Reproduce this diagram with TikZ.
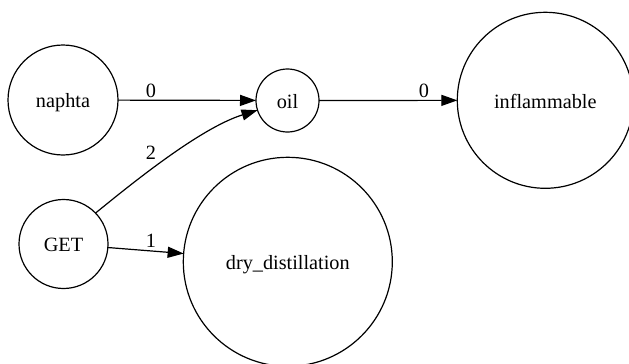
\documentclass[tikz,border=0pt]{standalone}
\usepackage{fontspec}
\setmainfont{Liberation Serif}
\usetikzlibrary{arrows.meta}
\begin{document}
\begin{tikzpicture}[x=0.75pt,y=-0.75pt,
  state/.style={draw, circle, line width=0.9pt, inner sep=0pt, outer sep=0pt, text height=15pt, text depth=3.3pt, font=\fontsize{15.2}{18}\selectfont},
  arr/.style={line width=0.9pt, -{Triangle[length=12pt,width=8.3pt]}},
  lbl/.style={inner sep=0pt, font=\fontsize{15.2}{18}\selectfont}]
\useasboundingbox (0,0) rectangle (629,364);
\node[state, minimum size=82.5pt] (naphta) at (63,100) {naphta};
\node[state, minimum size=47.25pt] (oil) at (287.5,100.5) {oil};
\node[state, minimum size=132pt] (inflammable) at (545.3,100.3) {inflammable};
\node[state, minimum size=66.75pt] (GET) at (63.5,244) {GET};
\node[state, minimum size=156.75pt] (dry) at (287.8,261.8) {dry\_distillation};
\draw[arr] (naphta) -- (oil);
\draw[arr] (oil) -- (inflammable);
\draw[arr] (GET.44.5) .. controls (130,185) and (200,128) .. (oil.198);
\draw[arr] (GET) -- (dry);
\node[lbl] (l1) at (151,90.5) {0};
\node[lbl] (l2) at (424,90.5) {0};
\node[lbl] (l3) at (151,153) {2};
\node[lbl] (l4) at (151,240.5) {1};
\end{tikzpicture}
\end{document}
